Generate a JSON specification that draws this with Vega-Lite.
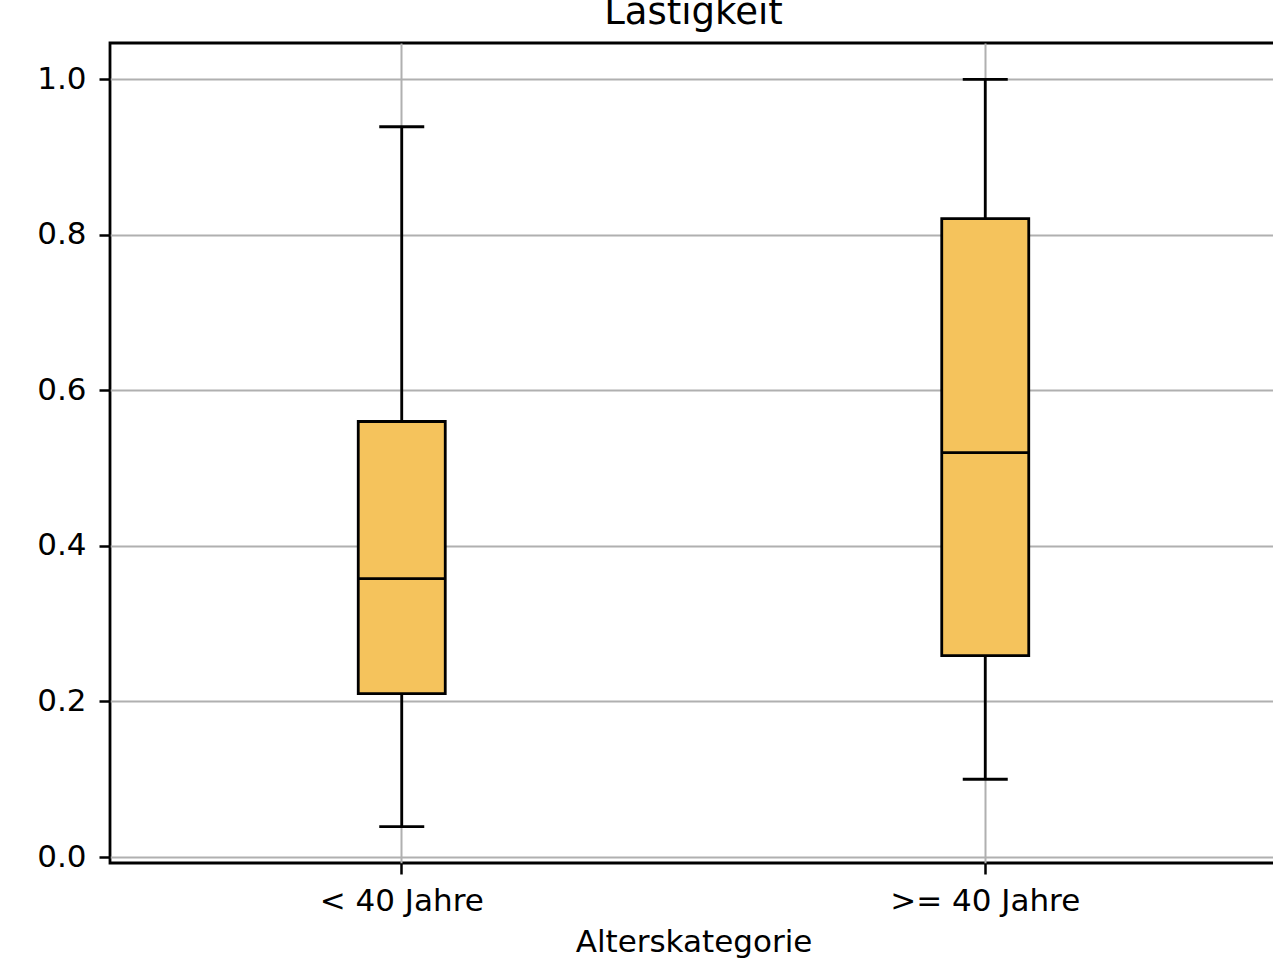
{
  "$schema": "https://vega.github.io/schema/vega-lite/v6.json",
  "autosize": "none",
  "padding": {"left": 110, "top": 43, "right": 0, "bottom": 98},
  "width": 1167,
  "height": 820,
  "background": "white",
  "config": {
    "font": "DejaVu Sans",
    "view": {"stroke": "black", "strokeWidth": 2.8},
    "axis": {
      "labelFont": "DejaVu Sans",
      "titleFont": "DejaVu Sans",
      "labelFontSize": 31,
      "titleFontSize": 31,
      "labelColor": "black",
      "titleColor": "black",
      "titleFontWeight": "normal",
      "labelLimit": 500,
      "tickColor": "black",
      "tickWidth": 2.5,
      "tickSize": 11,
      "gridColor": "#b0b0b0",
      "gridWidth": 2,
      "domain": false
    }
  },
  "title": {
    "text": "Lästigkeit",
    "font": "DejaVu Sans",
    "fontSize": 37,
    "fontWeight": "normal",
    "color": "black",
    "anchor": "middle",
    "offset": 11
  },
  "data": {
    "values": [
      {"Alterskategorie": "< 40 Jahre", "min": 0.039, "q1": 0.21, "median": 0.358, "q3": 0.56, "max": 0.939},
      {"Alterskategorie": ">= 40 Jahre", "min": 0.1, "q1": 0.259, "median": 0.52, "q3": 0.821, "max": 1.0}
    ]
  },
  "encoding": {
    "x": {
      "field": "Alterskategorie",
      "type": "nominal",
      "sort": ["< 40 Jahre", ">= 40 Jahre"],
      "scale": {"paddingInner": 0, "paddingOuter": 0},
      "axis": {
        "labelAngle": 0,
        "bandPosition": 0.5,
        "grid": true,
        "labelPadding": 12,
        "titlePadding": 11,
        "title": "Alterskategorie"
      }
    }
  },
  "layer": [
    {
      "mark": {"type": "rule", "color": "black", "strokeWidth": 2.8},
      "encoding": {
        "y": {
          "field": "min",
          "type": "quantitative",
          "scale": {"domain": [-0.0077, 1.0467], "nice": false, "zero": false},
          "axis": {
            "values": [0, 0.2, 0.4, 0.6, 0.8, 1.0],
            "format": ".1f",
            "grid": true,
            "title": null,
            "labelPadding": 13
          }
        },
        "y2": {"field": "max"}
      }
    },
    {
      "mark": {"type": "bar", "size": 87, "fill": "#f5c35c", "stroke": "black", "strokeWidth": 2.8},
      "encoding": {
        "y": {"field": "q1", "type": "quantitative"},
        "y2": {"field": "q3"}
      }
    },
    {
      "mark": {"type": "tick", "size": 87, "thickness": 2.8, "color": "black", "opacity": 1},
      "encoding": {"y": {"field": "median", "type": "quantitative"}}
    },
    {
      "mark": {"type": "tick", "size": 45, "thickness": 2.8, "color": "black", "opacity": 1},
      "encoding": {"y": {"field": "min", "type": "quantitative"}}
    },
    {
      "mark": {"type": "tick", "size": 45, "thickness": 2.8, "color": "black", "opacity": 1},
      "encoding": {"y": {"field": "max", "type": "quantitative"}}
    }
  ]
}
